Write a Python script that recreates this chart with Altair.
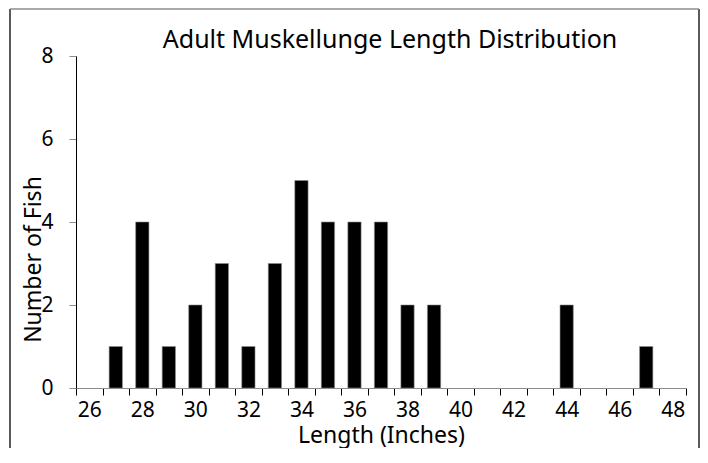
import altair as alt
import pandas as pd

categories = [str(v) for v in range(26, 49)]
lengths = ["27", "28", "29", "30", "31", "32", "33", "34", "35", "36", "37", "38", "39", "44", "47"]
counts = [1, 4, 1, 2, 3, 1, 3, 5, 4, 4, 4, 2, 2, 2, 1]
y_ticks = [0, 2, 4, 6, 8]
title_text = "Adult Muskellunge Length Distribution"

FONT = "Noto Sans"

df = pd.DataFrame({"length": lengths, "count": counts})

bars = alt.Chart(df).mark_bar(
    width=alt.RelativeBandSize(0.5), color="black", stroke="#8c8c8c", strokeWidth=0.6
).encode(
    x=alt.X(
        "length:N",
        sort=categories,
        scale=alt.Scale(domain=categories, paddingInner=0, paddingOuter=0),
        axis=alt.Axis(
            title="Length (Inches)",
            labelAngle=0,
            labelExpr="toNumber(datum.value) % 2 == 0 ? datum.label : ''",
            tickBand="extent",
            domainColor="#8c8c8c",
            tickColor="black",
            tickSize=7,
            labelPadding=4,
            labelFontSize=21,
            labelFont=FONT,
            labelColor="black",
            titleFont=FONT,
            titleFontSize=23,
            titleFontWeight="normal",
            titleColor="black",
            titleY=54,
            titleBaseline="alphabetic",
            grid=False,
        ),
    ),
    y=alt.Y(
        "count:Q",
        scale=alt.Scale(domain=[0, 8]),
        axis=alt.Axis(
            title="Number of Fish",
            values=y_ticks,
            domainColor="black",
            tickColor="#8c8c8c",
            tickSize=7,
            labelPadding=16,
            labelFontSize=21,
            labelFont=FONT,
            labelColor="black",
            titleFont=FONT,
            titleFontSize=23,
            titleFontWeight="normal",
            titleColor="black",
            titleX=-36,
            titleY=203,
            titleAngle=-90,
            titleBaseline="alphabetic",
            titleAlign="center",
            grid=False,
        ),
    ),
)

frame_df = pd.DataFrame({"k": [0]})
left_line = alt.Chart(frame_df).mark_rule(color="black", strokeWidth=1.3).encode(
    x=alt.value(-66), y=alt.value(-47), y2=alt.value(392)
)
right_line = alt.Chart(frame_df).mark_rule(color="black", strokeWidth=1.3).encode(
    x=alt.value(623), y=alt.value(-47), y2=alt.value(392)
)
top_line = alt.Chart(frame_df).mark_rule(color="#8c8c8c", strokeWidth=1.3).encode(
    x=alt.value(-66), x2=alt.value(623), y=alt.value(-47)
)
title_mark = alt.Chart(frame_df).mark_text(
    font=FONT, fontSize=25, color="black", align="center", baseline="alphabetic"
).encode(
    x=alt.value(314), y=alt.value(-8), text=alt.value(title_text)
)

chart = alt.layer(bars, left_line, right_line, top_line, title_mark).properties(
    width=610,
    height=332,
    background="white",
    view=alt.ViewBackground(stroke="transparent", strokeWidth=0),
    autosize=alt.AutoSizeParams(type="none"),
    padding={"left": 68, "top": 48, "right": 14, "bottom": 60},
).configure(
    view=alt.ViewConfig(stroke="transparent", strokeWidth=0),
    style={"cell": {"stroke": "transparent", "strokeWidth": 0}},
)

chart.save("out.html", embed_options={"renderer": "svg", "actions": False})
